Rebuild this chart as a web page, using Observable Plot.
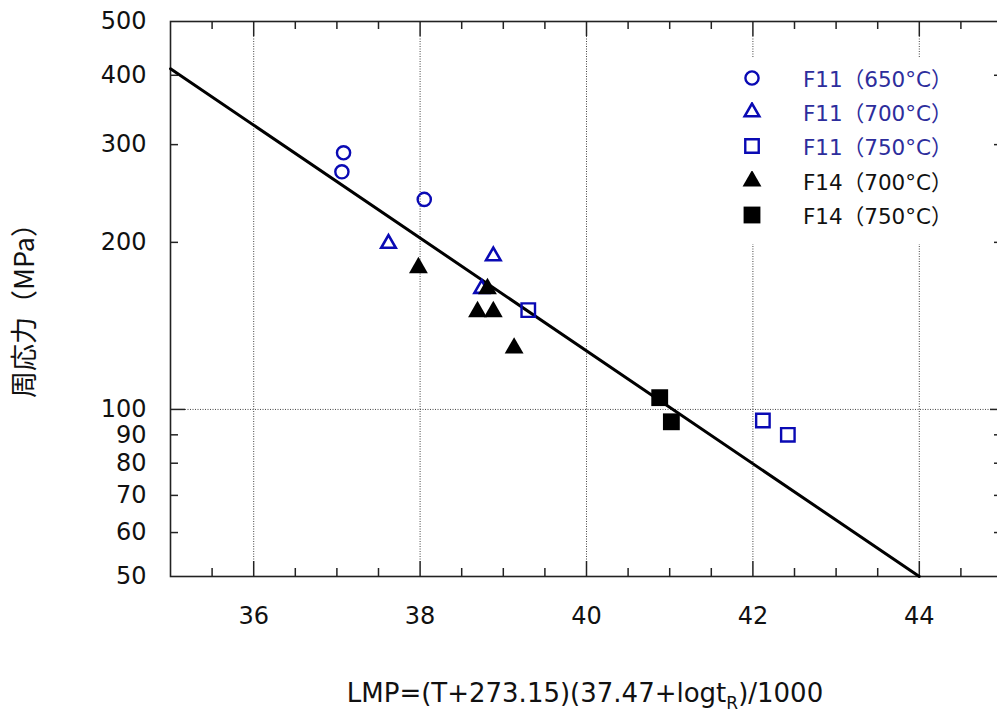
<!DOCTYPE html>
<html><head><meta charset="utf-8">
<script src="https://cdn.jsdelivr.net/npm/d3@7"></script>
<script src="https://cdn.jsdelivr.net/npm/@observablehq/plot@0.6"></script>
<style>
html,body{margin:0;padding:0;background:#fff;}
#wrap{position:relative;width:997px;height:718px;overflow:hidden;}
#legend{position:absolute;left:736px;top:58px;width:214px;height:186px;background:#fff;}
.row{position:absolute;left:0;height:34px;width:214px;}
.row svg{position:absolute;left:6px;top:10px;}
.row span{position:absolute;left:67px;top:4px;font-family:"DejaVu Sans","Noto Sans CJK JP";font-size:21.5px;white-space:nowrap;}
#xlabel{position:absolute;left:0;width:1170px;text-align:center;top:678px;font-family:"DejaVu Sans";font-size:26px;color:#111;white-space:nowrap;}
#xlabel sub{font-size:17px;vertical-align:-7px;line-height:0;}
</style></head>
<body><div id="wrap"></div>
<script>
// ---- data ----
const f11_650_x = [37.08, 37.06, 38.05];
const f11_650_y = [290, 268, 239];
const f11_700_x = [37.62, 38.88, 38.74];
const f11_700_y = [199, 189, 165];
const f11_750_x = [39.30, 42.12, 42.42];
const f11_750_y = [151, 95.5, 90];
const f14_700_x = [37.98, 38.81, 38.69, 38.88, 39.13];
const f14_700_y = [180, 165, 150, 150, 129];
const f14_750_x = [40.88, 41.02];
const f14_750_y = [105, 95];
const fit_x = [35, 44];
const fit_y = [411, 50];
const xMajorTicks = [36, 38, 40, 42, 44];
const xMinorTicks = [35.5, 36.5, 37, 37.5, 38.5, 39, 39.5, 40.5, 41, 41.5, 42.5, 43, 43.5, 44.5];
const yTickLabels = [50, 60, 70, 80, 90, 100, 200, 300, 400, 500];
const yInnerTicks = [60, 70, 80, 90, 200, 300, 400];
const yLongTicks = [100];
const yLabel = "周応力（MPa）";
const legendLabels = ["F11（650°C）", "F11（700°C）", "F11（750°C）", "F14（700°C）", "F14（750°C）"];

const BLUE = "#0a0ab4", BLUE_TEXT = "#2d2d9c", BLACK = "#000";
const pts = (xs, ys) => xs.map((x, i) => ({x, y: ys[i]}));

const W = 997, H = 718, ML = 170, MR = -5, MT = 21, MB = 142;
const PW = W - ML - MR, PH = H - MT - MB;

const series = [
  {data: pts(f11_650_x, f11_650_y), symbol: "circle", r: 6.6, fill: "none", stroke: BLUE, sw: 2.4},
  {data: pts(f11_700_x, f11_700_y), symbol: "triangle", r: 5.4, fill: "none", stroke: BLUE, sw: 2.6},
  {data: pts(f11_750_x, f11_750_y), symbol: "square", r: 7.6, fill: "none", stroke: BLUE, sw: 2.4},
  {data: pts(f14_700_x, f14_700_y), symbol: "triangle", r: 7.0, fill: BLACK, stroke: "none", sw: 0},
  {data: pts(f14_750_x, f14_750_y), symbol: "square", r: 9.5, fill: BLACK, stroke: "none", sw: 0}
];

const dotted = {stroke: "#444", strokeWidth: 1, strokeDasharray: "1,1.5"};

const plot = Plot.plot({
  width: W, height: H,
  marginLeft: ML, marginRight: MR, marginTop: MT, marginBottom: MB,
  x: {domain: [35, 45], axis: null},
  y: {type: "log", domain: [50, 500], axis: null},
  style: {fontFamily: "DejaVu Sans", fontSize: "24px", color: "#111", background: "#fff"},
  marks: [
    Plot.ruleX(xMajorTicks, {x: d => d, insetTop: 15, insetBottom: 15, ...dotted}),
    Plot.ruleY(yLongTicks, {y: d => d, insetLeft: 15, insetRight: 8, ...dotted}),
    Plot.ruleX(xMinorTicks, {x: d => d, insetTop: PH - 8, stroke: "#222", strokeWidth: 1.5}),
    Plot.ruleX(xMinorTicks, {x: d => d, insetBottom: PH - 8, stroke: "#222", strokeWidth: 1.5}),
    Plot.ruleX(xMajorTicks, {x: d => d, insetTop: PH - 15, stroke: "#222", strokeWidth: 1.5}),
    Plot.ruleX(xMajorTicks, {x: d => d, insetBottom: PH - 15, stroke: "#222", strokeWidth: 1.5}),
    Plot.ruleY(yInnerTicks, {y: d => d, insetRight: PW - 8, stroke: "#222", strokeWidth: 1.5}),
    Plot.ruleY(yInnerTicks, {y: d => d, insetLeft: PW - 8, stroke: "#222", strokeWidth: 1.5}),
    Plot.ruleY(yLongTicks, {y: d => d, insetRight: PW - 15, stroke: "#222", strokeWidth: 1.5}),
    Plot.ruleY(yLongTicks, {y: d => d, insetLeft: PW - 12, stroke: "#222", strokeWidth: 1.5}),
    Plot.frame({stroke: "#222", strokeWidth: 1.6}),
    Plot.axisX({ticks: xMajorTicks, tickSize: 0, tickPadding: 30, tickFormat: d => String(d), label: null, fill: "#111"}),
    Plot.axisY({ticks: yTickLabels, tickSize: 0, tickPadding: 24, tickFormat: d => String(d), label: null, fill: "#111"}),
    Plot.text([yLabel], {text: d => d, frameAnchor: "left", textAnchor: "middle", rotate: -90, dx: -145, dy: 5,
      fontFamily: "Noto Sans CJK JP", fontSize: 27, fill: "#111"}),
    Plot.line(pts(fit_x, fit_y), {x: "x", y: "y", stroke: "#000", strokeWidth: 3}),
    ...series.map(s => Plot.dot(s.data, {x: "x", y: "y", symbol: s.symbol, r: s.r,
      fill: s.fill, stroke: s.stroke, strokeWidth: s.sw}))
  ]
});

const wrap = document.getElementById("wrap");
wrap.appendChild(plot);

// legend
const legend = document.createElement("div");
legend.id = "legend";
const symMap = {circle: d3.symbolCircle, triangle: d3.symbolTriangle, square: d3.symbolSquare};
series.forEach((s, i) => {
  const row = document.createElement("div");
  row.className = "row";
  row.style.top = (i * 34.2) + "px";
  const path = d3.symbol(symMap[s.symbol], Math.PI * s.r * s.r)();
  row.innerHTML = `<svg width="20" height="20" viewBox="-10 -10 20 20"><path d="${path}" fill="${s.fill}" stroke="${s.stroke}" stroke-width="${s.sw}"/></svg>` +
    `<span style="color:${i < 3 ? BLUE_TEXT : "#111"}">${legendLabels[i]}</span>`;
  legend.appendChild(row);
});
wrap.appendChild(legend);

const xl = document.createElement("div");
xl.id = "xlabel";
xl.innerHTML = "LMP=(T+273.15)(37.47+logt<sub>R</sub>)/1000";
wrap.appendChild(xl);
</script>
</body></html>
